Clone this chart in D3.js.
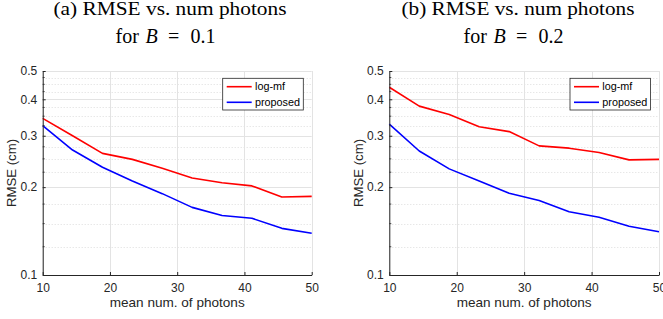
<!DOCTYPE html>
<html lang="en">
<head>
<meta charset="utf-8">
<title>RMSE vs. num photons</title>
<style>
body { margin: 0; background: #fff; }
svg { display: block; }
.axis text { font-family: "Liberation Sans", Arial, sans-serif; font-size: 12px; fill: #262626; }
.axis path, .axis line { stroke: #262626; }
</style>
<script src="https://d3js.org/d3.v7.min.js"></script>
</head>
<body>
<svg width="663" height="319" id="chart"></svg>
<script>
// x values: linspace(10, 50, 10)
var photons = [10, 14.444, 18.889, 23.333, 27.778, 32.222, 36.667, 41.111, 45.556, 50];

// panel (a), B = 0.1
var logmfA    = [0.344, 0.300, 0.261, 0.249, 0.232, 0.215, 0.207, 0.202, 0.185, 0.186];
var proposedA = [0.325, 0.268, 0.234, 0.210, 0.190, 0.1705, 0.160, 0.1564, 0.1445, 0.139];

// panel (b), B = 0.2
var logmfB    = [0.440, 0.379, 0.355, 0.322, 0.310, 0.277, 0.272, 0.263, 0.248, 0.249];
var proposedB = [0.329, 0.266, 0.231, 0.210, 0.1905, 0.180, 0.1648, 0.1577, 0.147, 0.1407];

var xTicks = [10, 20, 30, 40, 50];
var yTicks = [0.1, 0.2, 0.3, 0.4, 0.5];
var seriesNames = ["log-mf", "proposed"];
var seriesColors = ["#ff0000", "#0000ff"];

var svg = d3.select("#chart");

function drawPanel(cfg) {
  var x = d3.scaleLinear().domain([10, 50]).range([cfg.left, cfg.right]);
  var y = d3.scaleLog().domain([0.1, 0.5]).range([275, 71]);
  var g = svg.append("g");

  // minor grid (every 0.025), dotted
  var minor = d3.range(0.125, 0.5, 0.025).filter(function(v) {
    return Math.abs(v * 10 - Math.round(v * 10)) > 0.01;
  });
  g.selectAll(".minor").data(minor).enter().append("line")
    .attr("x1", cfg.left).attr("x2", cfg.right)
    .attr("y1", function(d) { return Math.round(y(d)) + 0.5; })
    .attr("y2", function(d) { return Math.round(y(d)) + 0.5; })
    .style("stroke", "#d4d4d4").style("stroke-width", 0.8)
    .style("stroke-dasharray", "1,2");

  // major grid
  g.selectAll(".ygrid").data(yTicks).enter().append("line")
    .attr("x1", cfg.left).attr("x2", cfg.right)
    .attr("y1", function(d) { return Math.round(y(d)) + 0.5; })
    .attr("y2", function(d) { return Math.round(y(d)) + 0.5; })
    .style("stroke", "#e3e3e3").style("stroke-width", 1);
  g.selectAll(".xgrid").data(xTicks).enter().append("line")
    .attr("y1", 71).attr("y2", 275)
    .attr("x1", function(d) { return Math.round(x(d)) + 0.5; })
    .attr("x2", function(d) { return Math.round(x(d)) + 0.5; })
    .style("stroke", "#e3e3e3").style("stroke-width", 1);

  // series lines
  var line = d3.line()
    .x(function(d, i) { return x(photons[i]); })
    .y(function(d) { return y(d); });
  [cfg.logmf, cfg.proposed].forEach(function(s, k) {
    g.append("path").datum(s)
      .attr("d", line)
      .style("fill", "none")
      .style("stroke", seriesColors[k])
      .style("stroke-width", 1.6)
      .style("stroke-linejoin", "round");
  });

  // axes, ticks pointing inward
  g.append("g").attr("class", "axis")
    .attr("transform", "translate(0,275)")
    .call(d3.axisBottom(x).tickValues(xTicks).tickSize(-3).tickSizeOuter(0).tickPadding(8));
  g.append("g").attr("class", "axis")
    .attr("transform", "translate(" + cfg.left + ",0)")
    .call(d3.axisLeft(y).tickValues(yTicks).tickFormat(d3.format(".1f"))
      .tickSize(-3).tickSizeOuter(0).tickPadding(5.5));
  // minor y ticks
  g.selectAll(".mtick").data(minor).enter().append("line")
    .attr("x1", cfg.left).attr("x2", cfg.left + 2)
    .attr("y1", function(d) { return y(d); })
    .attr("y2", function(d) { return y(d); })
    .style("stroke", "#262626").style("stroke-width", 0.8);

  // axis labels
  g.append("text")
    .attr("x", (cfg.left + cfg.right) / 2).attr("y", 307)
    .attr("text-anchor", "middle")
    .style("font-family", "Liberation Sans, Arial, sans-serif")
    .style("font-size", "13.2px").style("fill", "#262626")
    .attr("textLength", 135).attr("lengthAdjust", "spacingAndGlyphs")
    .text("mean num. of photons");
  g.append("text")
    .attr("transform", "translate(" + (cfg.left - 26.5) + ",173) rotate(-90)")
    .attr("text-anchor", "middle")
    .style("font-family", "Liberation Sans, Arial, sans-serif")
    .style("font-size", "13.2px").style("fill", "#262626")
    .text("RMSE (cm)");

  // legend
  var lx = cfg.right - 89, ly = 78.3;
  g.append("rect")
    .attr("x", lx).attr("y", ly).attr("width", 80.6).attr("height", 31.7)
    .style("fill", "#fff").style("stroke", "#262626").style("stroke-width", 0.8);
  seriesNames.forEach(function(name, k) {
    var yy = ly + 8.4 + k * 15.6;
    g.append("line")
      .attr("x1", lx + 4).attr("x2", lx + 29)
      .attr("y1", yy).attr("y2", yy)
      .style("stroke", seriesColors[k]).style("stroke-width", 1.6);
    g.append("text")
      .attr("x", lx + 32.3).attr("y", yy).attr("dy", "0.35em")
      .style("font-family", "Liberation Sans, Arial, sans-serif")
      .style("font-size", "10.8px").style("fill", "#000")
      .text(name);
  });

  // title (two lines, serif)
  g.append("text")
    .attr("x", cfg.titleX).attr("y", 15)
    .attr("text-anchor", "middle")
    .style("font-family", "Liberation Serif, Times New Roman, serif")
    .style("font-size", "18px").style("fill", "#000")
    .attr("textLength", 233).attr("lengthAdjust", "spacingAndGlyphs")
    .text(cfg.title);
  var t2 = g.append("text")
    .attr("y", 43.3)
    .style("font-family", "Liberation Serif, Times New Roman, serif")
    .style("font-size", "20px").style("fill", "#000");
  t2.append("tspan").attr("x", cfg.titleX - 54.5).text("for");
  t2.append("tspan").attr("x", cfg.titleX - 24.5).style("font-style", "italic").text("B");
  t2.append("tspan").attr("x", cfg.titleX - 2).text("=");
  t2.append("tspan").attr("x", cfg.titleX + 20.5).text(cfg.bValue);
}

drawPanel({ left: 42.7, right: 311.7, titleX: 170, title: "(a) RMSE vs. num photons",
            bValue: "0.1", logmf: logmfA, proposed: proposedA });
drawPanel({ left: 389.3, right: 659, titleX: 518, title: "(b) RMSE vs. num photons",
            bValue: "0.2", logmf: logmfB, proposed: proposedB });
</script>
</body>
</html>
